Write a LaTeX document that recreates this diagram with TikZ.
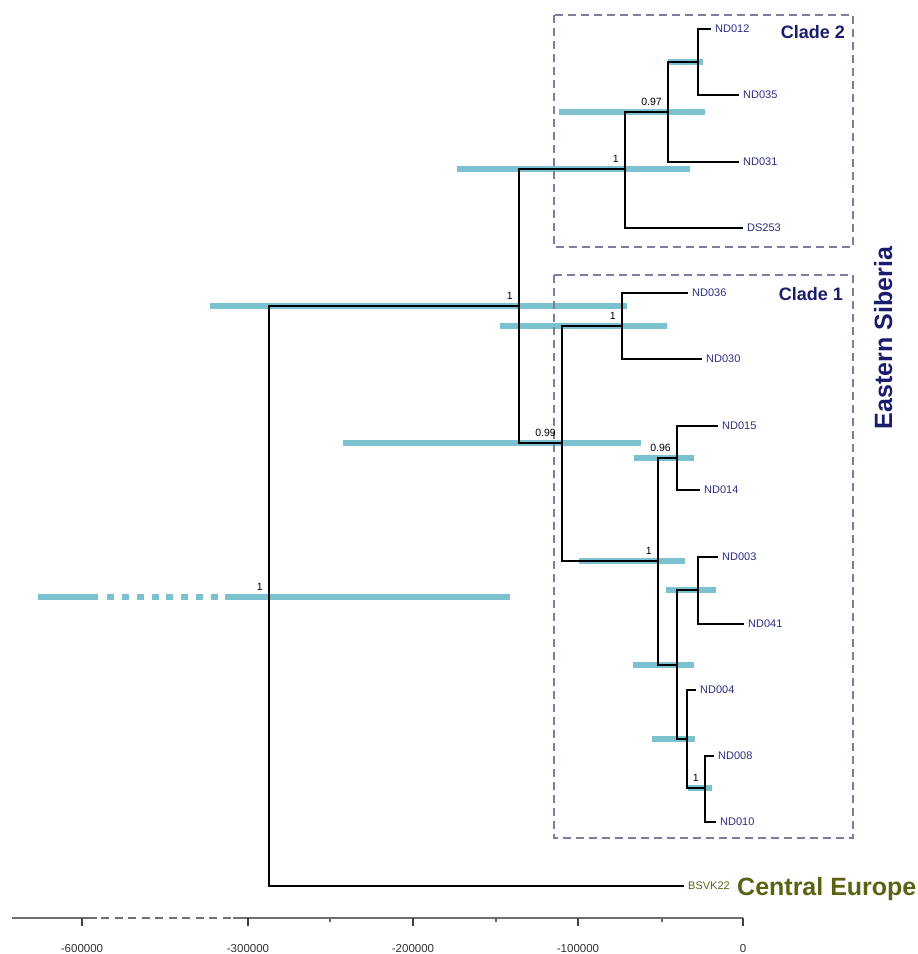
\documentclass[tikz,border=0pt]{standalone}
\usepackage{fontspec}
\setmainfont{Liberation Sans}
\usetikzlibrary{positioning}
\definecolor{hpdblue}{RGB}{124,193,208}
\definecolor{tipnavy}{RGB}{45,45,130}
\definecolor{cladenavy}{RGB}{28,28,110}
\definecolor{boxgray}{RGB}{125,125,160}
\definecolor{olivetxt}{RGB}{92,98,20}
\definecolor{axisgray}{RGB}{112,112,112}

\begin{document}
\begin{tikzpicture}[x=1pt,y=-1pt,
    bar/.style={hpdblue,line width=6pt},
    twig/.style={black,line width=1.2pt},
    trunk/.style={black,line width=2.6pt},
    tip/.style={anchor=west,inner xsep=4pt,inner ysep=0pt,text=tipnavy,font=\fontsize{11}{11}\selectfont},
    post/.style={anchor=base east,xshift=-6pt,yshift=6.5pt,inner sep=0pt,font=\fontsize{10.5}{10.5}\selectfont},
    cladebox/.style={boxgray,line width=1.8pt,dash pattern=on 8pt off 5pt},
    cladename/.style={inner sep=0pt,text=cladenavy,font=\fontsize{18}{18}\selectfont\bfseries},
    axisline/.style={axisgray,line width=1.8pt},
    ticklab/.style={anchor=base,inner sep=0pt,text=black!80,font=\fontsize{11.5}{11.5}\selectfont}]
\useasboundingbox (0,0) rectangle (918,954);
%------------------------------
% HPD bars
%______________________________
\foreach \y/\a/\b in {306/210/627, 169/457/690, 112/559/705, 62/668/703,
    443/343/641, 326/500/667, 458/634/694, 561/579/685, 665/633/694,
    590/666/716, 739/652/695, 788/688/712}
  \draw[bar] (\a,\y) -- (\b,\y);
\draw[bar] (38,597) -- (98,597);
\draw[bar,dash pattern=on 7pt off 7.85pt] (107,597) -- (218,597);
\draw[bar] (225,597) -- (510,597);
%
\draw[cladebox] (554,15) rectangle (853,247);
\draw[cladebox] (554,275) rectangle (853,838);
%
% internal nodes
\coordinate (R) at (269,597);
\coordinate (ES) at (519,306);
\coordinate (C2) at (625,169);
\coordinate (n097) at (668,112);
\coordinate (n12) at (698,62);
\coordinate (C1) at (562,443);
\coordinate (n3630) at (622,326);
\coordinate (nA) at (658,561);
\coordinate (n096) at (677,458);
\coordinate (nB) at (677,665);
\coordinate (nC) at (698,590);
\coordinate (nD) at (687,739);
\coordinate (nE) at (705,788);
%
% tips
\node[tip] (ND012) at (711,29) {ND012};
\node[tip] (ND035) at (739,95) {ND035};
\node[tip] (ND031) at (739,162) {ND031};
\node[tip] (DS253) at (743,228) {DS253};
\node[tip] (ND036) at (688,293) {ND036};
\node[tip] (ND030) at (702,359) {ND030};
\node[tip] (ND015) at (718,426) {ND015};
\node[tip] (ND014) at (700,490) {ND014};
\node[tip] (ND003) at (718,557) {ND003};
\node[tip] (ND041) at (744,624) {ND041};
\node[tip] (ND004) at (696,690) {ND004};
\node[tip] (ND008) at (714,756) {ND008};
\node[tip] (ND010) at (716,822) {ND010};
\node[tip,text=olivetxt] (BSVK22) at (684,886) {BSVK22};
%
% branches
\draw[trunk] (R) |- (ES);
\draw[trunk] (R) |- (BSVK22.west);
\draw[trunk] (ES) |- (C2);
\draw[trunk] (ES) |- (C1);
\draw[twig] (C2) |- (n097);
\draw[twig] (C2) |- (DS253.west);
\draw[twig] (n097) |- (n12);
\draw[twig] (n097) |- (ND031.west);
\draw[twig] (n12) |- (ND012.west);
\draw[twig] (n12) |- (ND035.west);
\draw[twig] (C1) |- (n3630);
\draw[twig] (C1) |- (nA);
\draw[twig] (n3630) |- (ND036.west);
\draw[twig] (n3630) |- (ND030.west);
\draw[twig] (nA) |- (n096);
\draw[twig] (nA) |- (nB);
\draw[twig] (n096) |- (ND015.west);
\draw[twig] (n096) |- (ND014.west);
\draw[twig] (nB) |- (nC);
\draw[twig] (nB) |- (nD);
\draw[twig] (nC) |- (ND003.west);
\draw[twig] (nC) |- (ND041.west);
\draw[twig] (nD) |- (ND004.west);
\draw[twig] (nD) |- (nE);
\draw[twig] (nE) |- (ND008.west);
\draw[twig] (nE) |- (ND010.west);
%
% posteriors
\node[post] (pR) at (R) {1};
\node[post] (pES) at (ES) {1};
\node[post] (pC2) at (C2) {1};
\node[post] (p097) at (n097) {0.97};
\node[post] (pC1) at (C1) {0.99};
\node[post] (p3630) at (n3630) {1};
\node[post] (p096) at (n096) {0.96};
\node[post] (pA) at (nA) {1};
\node[post] (pE) at (nE) {1};
%
% group names
\node[cladename,anchor=base east] (cl2) at (845,38) {Clade 2};
\node[cladename,anchor=base east] (cl1) at (843,300) {Clade 1};
\node[cladename,rotate=90,anchor=base,font=\fontsize{25}{25}\selectfont\bfseries] (esib) at (892,338) {Eastern Siberia};
\node[inner sep=0pt,anchor=base west,text=olivetxt,font=\fontsize{25}{25}\selectfont\bfseries] (ceu) at (737,895) {Central Europe};
%------------------------------
% time axis
%______________________________
\draw[axisline] (12,918) -- (97,918);
\draw[axisline,dash pattern=on 8pt off 5.5pt] (101,918) -- (233,918);
\draw[axisline] (233,918) -- (743,918);
\foreach \x/\t in {82/-600000, 248/-300000, 413/-200000, 578/-100000, 743/0} {
    \draw[axisline,line width=1.2pt,black!75] (\x,918) -- (\x,926);
    \node[ticklab] (t\x) at (\x,952) {\t};
}
\foreach \x in {330,496,662}
    \draw[axisline,line width=1.2pt,black!60] (\x,918) -- (\x,922);
\end{tikzpicture}
\end{document}
